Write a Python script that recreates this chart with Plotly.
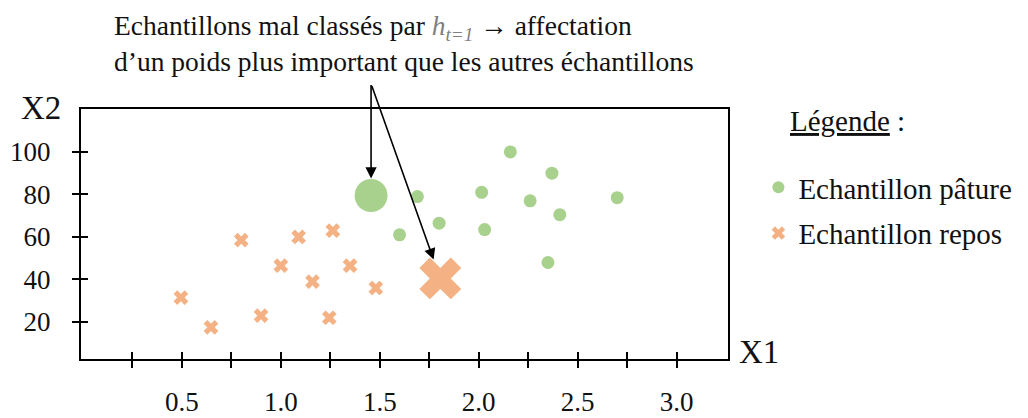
import plotly.graph_objects as go

FONT = "Liberation Serif"

# Data
paturage_x = [2.16, 2.37, 2.015, 1.69, 2.26, 2.70, 2.41, 1.80, 2.03, 1.60, 2.35]
paturage_y = [100, 90, 81, 79, 77, 78.5, 70.5, 66.5, 63.5, 61, 48]
repos_x = [0.495, 0.647, 0.80, 0.90, 1.0, 1.09, 1.16, 1.245, 1.263, 1.35, 1.48]
repos_y = [31.5, 17.5, 58.5, 23, 46.5, 60, 39, 22, 63, 46.5, 36]
mal_classe_paturage = ([1.456], [79.5])
mal_classe_repos = ([1.806], [40.5])

x_tickvals = [0.25, 0.5, 0.75, 1.0, 1.25, 1.5, 1.75, 2.0, 2.25, 2.5, 2.75, 3.0]
x_ticktext = ["", "0.5", "", "1.0", "", "1.5", "", "2.0", "", "2.5", "", "3.0"]
y_tickvals = [20, 40, 60, 80, 100]
y_ticktext = ["20", "40", "60", "80", "100"]

GREEN = "#a9d18e"
ORANGE = "#f4b183"

X_RANGE = [-0.01, 3.26]
Y_RANGE = [2.6, 120.2]

# page body has an 8px margin -> figure is drawn from (8, 8)
OFF = 8
PL, PT, PW, PH = 81, 109, 647, 250  # plot area in window pixels


def px(x):
    return (x - PL) / PW


def py(y):
    return (PT + PH - y) / PH


fig = go.Figure()
fig.add_trace(go.Scatter(
    x=paturage_x, y=paturage_y, mode="markers", name="Echantillon pâture",
    marker=dict(symbol="circle", size=13, color=GREEN), legendgroup="a"))
fig.add_trace(go.Scatter(
    x=repos_x, y=repos_y, mode="markers", name="Echantillon repos",
    marker=dict(symbol="x", size=13, color=ORANGE, line=dict(width=0)), legendgroup="b"))
fig.add_trace(go.Scatter(
    x=mal_classe_paturage[0], y=mal_classe_paturage[1], mode="markers", showlegend=False,
    marker=dict(symbol="circle", size=33, color=GREEN)))
fig.add_trace(go.Scatter(
    x=mal_classe_repos[0], y=mal_classe_repos[1], mode="markers", showlegend=False,
    marker=dict(symbol="x", size=37, color=ORANGE, line=dict(width=0))))

tickfont = dict(family=FONT, size=27, color="#111111")

fig.update_layout(
    width=1028 - OFF, height=418 - OFF,
    margin=dict(l=PL - OFF, r=1028 - PL - PW, t=PT - OFF, b=418 - PT - PH, autoexpand=False),
    paper_bgcolor="white", plot_bgcolor="white",
    font=dict(family=FONT, color="#111111"),
    xaxis=dict(range=X_RANGE, showgrid=False, zeroline=False, automargin=False,
               showline=True, mirror=True, linecolor="black", linewidth=2,
               tickmode="array", tickvals=x_tickvals, ticktext=x_ticktext,
               ticks="outside", ticklen=7, tickwidth=2, tickcolor="black",
               tickfont=tickfont, ticklabelstandoff=11),
    yaxis=dict(range=Y_RANGE, showgrid=False, zeroline=False, automargin=False,
               showline=True, mirror=True, linecolor="black", linewidth=2,
               tickmode="array", tickvals=y_tickvals, ticktext=y_ticktext,
               ticks="outside", ticklen=7, tickwidth=2, tickcolor="black",
               tickfont=tickfont, ticklabelstandoff=16),
    xaxis2=dict(range=X_RANGE, overlaying="x", anchor="y", side="bottom", automargin=False,
                showgrid=False, zeroline=False, showline=False,
                tickmode="array", tickvals=x_tickvals, showticklabels=False,
                ticks="inside", ticklen=7, tickwidth=2, tickcolor="black"),
    yaxis2=dict(range=Y_RANGE, overlaying="y", anchor="x", side="left", automargin=False,
                showgrid=False, zeroline=False, showline=False,
                tickmode="array", tickvals=y_tickvals, showticklabels=False,
                ticks="inside", ticklen=7, tickwidth=2, tickcolor="black"),
    showlegend=True,
    legend=dict(x=1.047, y=py(162), xanchor="left", yanchor="top",
                font=dict(family=FONT, size=29, color="#111111"),
                itemsizing="constant", traceorder="grouped", tracegroupgap=5,
                bgcolor="rgba(0,0,0,0)"),
)

# invisible empty trace to activate the overlay axes
fig.add_trace(go.Scatter(x=[], y=[], xaxis="x2", yaxis="y2", showlegend=False))

annotations = [
    dict(text="Echantillons mal classés par <i><span style='color:#7f7f7f'>h</span></i>"
              "<sub><span style='color:#7f7f7f'><i>t=1</i></span></sub> "
              "<b>→</b> affectation<br>"
              "d’un poids plus important que les autres échantillons",
         xref="paper", yref="paper", x=px(112), y=py(8),
         xanchor="left", yanchor="top", align="left", showarrow=False,
         font=dict(family=FONT, size=27.5, color="#111111")),
    dict(text="X2", xref="paper", yref="paper", x=px(19), y=py(108),
         xanchor="left", yanchor="middle", showarrow=False,
         font=dict(family=FONT, size=33, color="#111111")),
    dict(text="X1", xref="paper", yref="paper", x=px(737), y=py(352),
         xanchor="left", yanchor="middle", showarrow=False,
         font=dict(family=FONT, size=33, color="#111111")),
    dict(text="<u>Légende</u> :", xref="paper", yref="paper", x=px(788),
         y=py(121), xanchor="left", yanchor="middle", showarrow=False,
         font=dict(family=FONT, size=29, color="#111111")),
    dict(text="", x=mal_classe_paturage[0][0], y=mal_classe_paturage[1][0], xref="x", yref="y",
         showarrow=True, ax=0, ay=-112, arrowhead=2, arrowsize=1.4, arrowwidth=1.6,
         arrowcolor="black", standoff=17),
    dict(text="", x=mal_classe_repos[0][0], y=mal_classe_repos[1][0], xref="x", yref="y",
         showarrow=True, ax=-69, ay=-194, arrowhead=2, arrowsize=1.4, arrowwidth=1.6,
         arrowcolor="black", standoff=20),
]
fig.update_layout(annotations=annotations)

fig.write_html("out.html")
